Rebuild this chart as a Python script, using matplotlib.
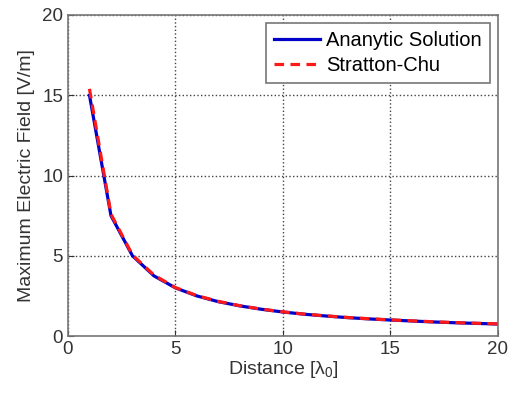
import numpy as np
import matplotlib
matplotlib.use("Agg")
import matplotlib.pyplot as plt

plt.rcParams['font.family'] = ['Liberation Sans', 'DejaVu Sans']
plt.rcParams['mathtext.default'] = 'regular'

# distance in wavelengths
distance = [1, 2, 3, 4, 5, 6, 7, 8, 9, 10, 11, 12, 13, 14, 15, 16, 17, 18, 19, 20]
# maximum field, analytic
e_analytic = [15.0, 7.5, 5.0, 3.75, 3.0, 2.5, 2.14, 1.88, 1.67, 1.5,
              1.36, 1.25, 1.15, 1.07, 1.0, 0.94, 0.88, 0.83, 0.79, 0.75]
# maximum field, Stratton-Chu integral
e_stratton = [15.4, 7.6, 5.05, 3.8, 3.02, 2.52, 2.16, 1.89, 1.68, 1.51,
              1.37, 1.26, 1.16, 1.08, 1.01, 0.95, 0.89, 0.84, 0.8, 0.76]

fig = plt.figure(figsize=(5.21, 3.94), dpi=100)
ax = fig.add_axes([0.1305, 0.147, 0.825, 0.815])

ax.plot(distance, e_analytic, '-', color='#0000c8', lw=2.3, label='Ananytic Solution')
ax.plot(distance, e_stratton, '--', color='#ff1a1a', lw=2.3, dashes=(3, 2), label='Stratton-Chu')

ax.set_xlim(0, 20)
ax.set_ylim(0, 20)
ax.set_xticks([0, 5, 10, 15, 20])
ax.set_yticks([0, 5, 10, 15, 20])
ax.tick_params(direction='in', labelsize=13.5, colors='#333333', length=4)
ax.grid(True, linestyle=':', color='#444444', lw=1)
for s in ax.spines.values():
    s.set_color('#777777')
    s.set_linewidth(1.2)

ax.set_xlabel('Distance [$\\lambda_0$]', fontsize=14, color='#333333', labelpad=1)
ax.set_ylabel('Maximum Electric Field [V/m]', fontsize=14, color='#333333', labelpad=5)

leg = ax.legend(loc='upper right', fontsize=14.5, fancybox=False, framealpha=1,
                edgecolor='#777777', handlelength=2.3, handletextpad=0.3,
                borderpad=0.4, labelspacing=0.3, borderaxespad=0.4)
leg.get_frame().set_linewidth(1.2)

fig.savefig('out.png', dpi=100)
